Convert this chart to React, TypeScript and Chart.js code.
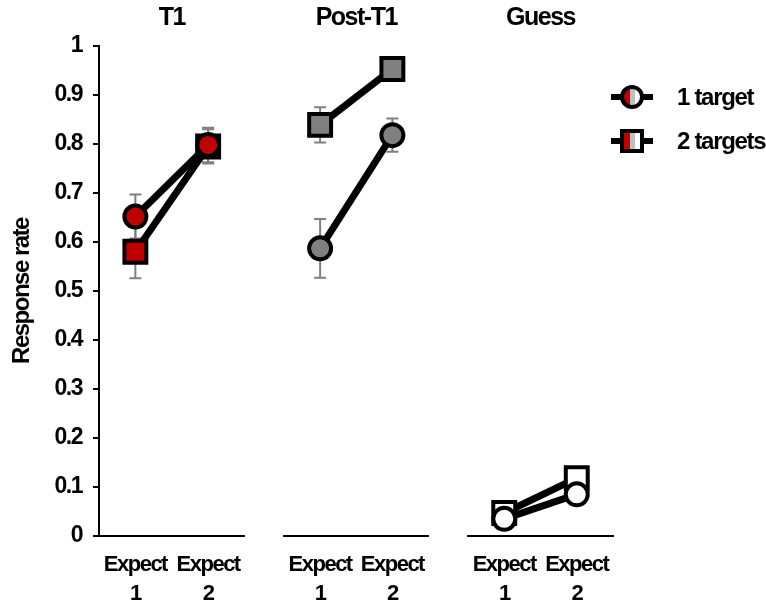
import React, { useEffect, useRef } from "react";
import { Chart, registerables } from "chart.js";

Chart.register(...registerables);

// ---------- data ----------
const panelTitles = ["T1", "Post-T1", "Guess"];
const categories = ["Expect 1", "Expect 2"];
const seriesNames = ["1 target", "2 targets"];
const yTickLabels = ["0", "0.1", "0.2", "0.3", "0.4", "0.5", "0.6", "0.7", "0.8", "0.9", "1"];
const yAxisTitle = "Response rate";

const t1One = [0.652, 0.798];
const t1Two = [0.58, 0.795];
const t1OneErr = [0.045, 0.035];
const t1TwoErr = [0.054, 0.035];

const postOne = [0.587, 0.818];
const postTwo = [0.839, 0.953];
const postOneErr = [0.06, 0.034];
const postTwoErr = [0.036, 0.015];

const guessOne = [0.035, 0.085];
const guessTwo = [0.047, 0.118];
const guessOneErr = [0.01, 0.01];
const guessTwoErr = [0.01, 0.01];

const panelFills = ["#c00000", "#808080", "#ffffff"];

// ---------- styling ----------
const SANS = "'Liberation Sans', Arial, sans-serif";

const tightTextPlugin = {
  id: "tightText",
  beforeUpdate(chart: any) {
    (chart.ctx as any).letterSpacing = "-1.5px";
  },
  beforeDraw(chart: any) {
    (chart.ctx as any).letterSpacing = "-1.5px";
  },
};

const errorBarPlugin = {
  id: "errorBars",
  beforeDatasetsDraw(chart: any, _args: any, opts: any) {
    const errs: number[][] = opts.errs || [];
    const ctx = chart.ctx;
    const yScale = chart.scales.y;
    ctx.save();
    ctx.strokeStyle = "#808080";
    ctx.lineWidth = 2;
    chart.data.datasets.forEach((ds: any, i: number) => {
      const meta = chart.getDatasetMeta(i);
      meta.data.forEach((pt: any, j: number) => {
        const v = ds.data[j];
        const e = (errs[i] || [])[j] || 0;
        const top = yScale.getPixelForValue(v + e);
        const bot = yScale.getPixelForValue(v - e);
        const x = pt.x;
        ctx.beginPath();
        ctx.moveTo(x, top);
        ctx.lineTo(x, bot);
        ctx.moveTo(x - 6, top);
        ctx.lineTo(x + 6, top);
        ctx.moveTo(x - 6, bot);
        ctx.lineTo(x + 6, bot);
        ctx.stroke();
      });
    });
    ctx.restore();
  },
};

type PanelSpec = {
  title: string;
  one: number[];
  two: number[];
  oneErr: number[];
  twoErr: number[];
  fill: string;
  left: number;
  width: number;
  padLeft: number;
  padRight: number;
  showY: boolean;
};

const panels: PanelSpec[] = [
  { title: panelTitles[0], one: t1One, two: t1Two, oneErr: t1OneErr, twoErr: t1TwoErr, fill: panelFills[0], left: 0, width: 264, padLeft: 0, padRight: 18, showY: true },
  { title: panelTitles[1], one: postOne, two: postTwo, oneErr: postOneErr, twoErr: postTwoErr, fill: panelFills[1], left: 264, width: 184, padLeft: 20, padRight: 18, showY: false },
  { title: panelTitles[2], one: guessOne, two: guessTwo, oneErr: guessOneErr, twoErr: guessTwoErr, fill: panelFills[2], left: 448, width: 318, padLeft: 20, padRight: 153, showY: false },
];

function Panel({ spec }: { spec: PanelSpec }) {
  const ref = useRef<HTMLCanvasElement | null>(null);
  useEffect(() => {
    if (!ref.current) return;
    const chart = new Chart(ref.current, {
      type: "line",
      data: {
        labels: categories,
        datasets: [
          {
            label: seriesNames[0],
            data: spec.one,
            borderColor: "#000",
            borderWidth: 7,
            pointStyle: "circle",
            pointRadius: 11,
            pointBorderWidth: 4,
            pointBackgroundColor: spec.fill,
            pointBorderColor: "#000",
            clip: false,
          } as any,
          {
            label: seriesNames[1],
            data: spec.two,
            borderColor: "#000",
            borderWidth: 7,
            pointStyle: "rect",
            pointRadius: 15.5,
            pointBorderWidth: 4,
            pointBackgroundColor: spec.fill,
            pointBorderColor: "#000",
            clip: false,
          } as any,
        ],
      },
      options: {
        animation: false,
        responsive: false,
        events: [],
        layout: { padding: { left: spec.padLeft, right: spec.padRight, top: 0, bottom: 0 } },
        plugins: {
          legend: { display: false },
          tooltip: { enabled: false },
          title: {
            display: true,
            text: spec.title,
            fullSize: false,
            color: "#000",
            font: { family: SANS, size: 25, weight: "bold", lineHeight: 1.2 },
            padding: { top: 3.5, bottom: 12.5 },
          },
          errorBars: { errs: [spec.oneErr, spec.twoErr] },
        } as any,
        scales: {
          x: {
            type: "category",
            offset: true,
            grid: { display: true, drawOnChartArea: false, drawTicks: false },
            border: { display: true, color: "#000", width: 2 },
            ticks: {
              color: "#000",
              font: { family: SANS, size: 22, weight: "bold", lineHeight: 1.3 },
              padding: 15,
              maxRotation: 0,
              autoSkip: false,
              callback: (_v: any, i: number) => categories[i].split(" "),
            },
            afterFit: (s: any) => {
              s.height = 69;
            },
          },
          y: {
            min: 0,
            max: 1,
            display: spec.showY,
            grid: { display: true, drawOnChartArea: false, drawTicks: true, tickLength: 6, color: "#000", lineWidth: 2 },
            border: { display: true, color: "#000", width: 2 },
            ticks: {
              stepSize: 0.1,
              color: "#000",
              padding: 11,
              font: { family: SANS, size: 23, weight: "bold" },
              callback: (_v: any, i: number) => yTickLabels[i],
            },
            title: {
              display: true,
              text: yAxisTitle,
              color: "#000",
              font: { family: SANS, size: 24, weight: "bold" },
              padding: { top: 8, bottom: 0 },
            },
            afterFit: (s: any) => {
              if (spec.showY) s.width = 99;
            },
          },
        },
      },
      plugins: [tightTextPlugin as any, errorBarPlugin as any],
    });
    return () => chart.destroy();
  }, [spec]);
  return (
    <canvas
      ref={ref}
      width={spec.width}
      height={605}
      style={{ position: "absolute", left: spec.left, top: 0, width: spec.width, height: 605 }}
    />
  );
}

const legendMarkerFill = "linear-gradient(to right, #c00000 0 40%, #bfbfbf 40% 70%, #ffffff 70% 100%)";

function LegendItem({ y, shape, label }: { y: number; shape: "circle" | "rect"; label: string }) {
  const size = 24;
  return (
    <>
      <div style={{ position: "absolute", left: 611, top: y - 3, width: 42, height: 6, background: "#000" }} />
      <div
        style={{
          position: "absolute",
          left: 632 - size / 2,
          top: y - size / 2,
          width: size,
          height: size,
          boxSizing: "border-box",
          border: "4px solid #000",
          borderRadius: shape === "circle" ? "50%" : 0,
          background: legendMarkerFill,
        }}
      />
      <div
        style={{
          position: "absolute",
          left: 677,
          top: y - 14,
          height: 28,
          lineHeight: "28px",
          fontFamily: SANS,
          fontWeight: "bold",
          fontSize: 24,
          letterSpacing: "-1.3px",
          color: "#000",
          whiteSpace: "nowrap",
        }}
      >
        {label}
      </div>
    </>
  );
}

export default function App() {
  return (
    <div style={{ position: "absolute", left: 0, top: 0, width: 766, height: 605, background: "#fff", overflow: "hidden" }}>
      {panels.map((p) => (
        <Panel key={p.title} spec={p} />
      ))}
      <LegendItem y={97} shape="circle" label={seriesNames[0]} />
      <LegendItem y={141} shape="rect" label={seriesNames[1]} />
    </div>
  );
}
